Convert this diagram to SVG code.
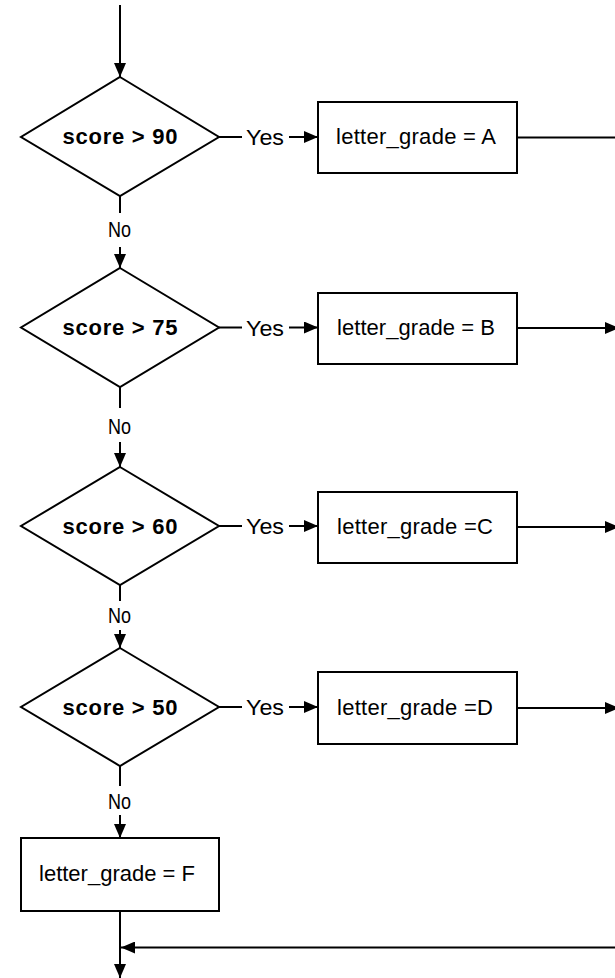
<svg xmlns="http://www.w3.org/2000/svg" width="615" height="978" viewBox="0 0 615 978">
  <defs>
    <marker id="arrow" viewBox="0 0 14 12" refX="14" refY="6" markerWidth="14" markerHeight="12" markerUnits="userSpaceOnUse" orient="auto">
      <path d="M0,0 L14,6 L0,12 Z" fill="#000"/>
    </marker>
    <style>
      .shape { fill: #fff; stroke: #000; stroke-width: 2; }
      .edge { fill: none; stroke: #000; stroke-width: 2; }
      .cond { font-family: "Liberation Sans", Arial, sans-serif; font-size: 22px; font-weight: bold; fill: #000; text-anchor: middle; }
      .act { font-family: "Liberation Sans", Arial, sans-serif; font-size: 22px; fill: #000; text-anchor: middle; }
      .lbl { font-family: "Liberation Sans", Arial, sans-serif; font-size: 22px; fill: #000; }
    </style>
  </defs>

  <rect width="615" height="978" fill="#fff"/>

  <!-- connectors -->
  <g id="connectors">
    <line class="edge" x1="120" y1="5" x2="120" y2="77" marker-end="url(#arrow)"/>

    <!-- Yes branches -->
    <line class="edge" x1="219" y1="137" x2="242" y2="137"/>
    <line class="edge" x1="289" y1="137" x2="318" y2="137" marker-end="url(#arrow)"/>
    <line class="edge" x1="219" y1="327.5" x2="242" y2="327.5"/>
    <line class="edge" x1="289" y1="327.5" x2="318" y2="327.5" marker-end="url(#arrow)"/>
    <line class="edge" x1="219" y1="526" x2="242" y2="526"/>
    <line class="edge" x1="289" y1="526" x2="318" y2="526" marker-end="url(#arrow)"/>
    <line class="edge" x1="219" y1="707" x2="242" y2="707"/>
    <line class="edge" x1="289" y1="707" x2="318" y2="707" marker-end="url(#arrow)"/>

    <!-- No branches -->
    <line class="edge" x1="120" y1="196" x2="120" y2="213"/>
    <line class="edge" x1="120" y1="247" x2="120" y2="268" marker-end="url(#arrow)"/>
    <line class="edge" x1="120" y1="387" x2="120" y2="408"/>
    <line class="edge" x1="120" y1="442" x2="120" y2="467" marker-end="url(#arrow)"/>
    <line class="edge" x1="120" y1="585" x2="120" y2="601"/>
    <line class="edge" x1="120" y1="630" x2="120" y2="648" marker-end="url(#arrow)"/>
    <line class="edge" x1="120" y1="766" x2="120" y2="786"/>
    <line class="edge" x1="120" y1="815" x2="120" y2="838" marker-end="url(#arrow)"/>

    <!-- outgoing from grade boxes -->
    <line class="edge" x1="517" y1="137.5" x2="616" y2="137.5"/>
    <line class="edge" x1="517" y1="328" x2="619" y2="328" marker-end="url(#arrow)"/>
    <line class="edge" x1="517" y1="527" x2="619" y2="527" marker-end="url(#arrow)"/>
    <line class="edge" x1="517" y1="708" x2="619" y2="708" marker-end="url(#arrow)"/>

    <!-- merge and exit -->
    <line class="edge" x1="120" y1="911" x2="120" y2="978" marker-end="url(#arrow)"/>
    <line class="edge" x1="616" y1="947.5" x2="121" y2="947.5" marker-end="url(#arrow)"/>

    <!-- edge labels -->
    <text class="lbl" x="246" y="145" textLength="38" lengthAdjust="spacingAndGlyphs">Yes</text>
    <text class="lbl" x="246" y="335.5" textLength="38" lengthAdjust="spacingAndGlyphs">Yes</text>
    <text class="lbl" x="246" y="534" textLength="38" lengthAdjust="spacingAndGlyphs">Yes</text>
    <text class="lbl" x="246" y="715" textLength="38" lengthAdjust="spacingAndGlyphs">Yes</text>

    <text class="lbl" x="108" y="237" textLength="23" lengthAdjust="spacingAndGlyphs">No</text>
    <text class="lbl" x="108" y="434" textLength="23" lengthAdjust="spacingAndGlyphs">No</text>
    <text class="lbl" x="108" y="623" textLength="23" lengthAdjust="spacingAndGlyphs">No</text>
    <text class="lbl" x="108" y="809" textLength="23" lengthAdjust="spacingAndGlyphs">No</text>
  </g>

  <!-- decisions -->
  <g id="d90">
    <polygon class="shape" points="120,77 219,137 120,196 21,137"/>
    <text class="cond" x="120" y="144" textLength="115">score &gt; 90</text>
  </g>
  <g id="d75">
    <polygon class="shape" points="120,268 219,327.5 120,387 21,327.5"/>
    <text class="cond" x="120" y="335" textLength="115">score &gt; 75</text>
  </g>
  <g id="d60">
    <polygon class="shape" points="120,467 219,526 120,585 21,526"/>
    <text class="cond" x="120" y="533.5" textLength="115">score &gt; 60</text>
  </g>
  <g id="d50">
    <polygon class="shape" points="120,648 219,707 120,766 21,707"/>
    <text class="cond" x="120" y="714.5" textLength="115">score &gt; 50</text>
  </g>

  <!-- assignments -->
  <g id="gradeA">
    <rect class="shape" x="318" y="102" width="199" height="71"/>
    <text class="act" x="416" y="143.5" textLength="160">letter_grade = A</text>
  </g>
  <g id="gradeB">
    <rect class="shape" x="318" y="293" width="199" height="71"/>
    <text class="act" x="416" y="334.5" textLength="158">letter_grade = B</text>
  </g>
  <g id="gradeC">
    <rect class="shape" x="318" y="492" width="199" height="71"/>
    <text class="act" x="415" y="533.5" textLength="156">letter_grade =C</text>
  </g>
  <g id="gradeD">
    <rect class="shape" x="318" y="672" width="199" height="72"/>
    <text class="act" x="415" y="714.5" textLength="156">letter_grade =D</text>
  </g>
  <g id="gradeF">
    <rect class="shape" x="21" y="838" width="198" height="73"/>
    <text class="act" x="117" y="880.5" textLength="156">letter_grade = F</text>
  </g>
</svg>
